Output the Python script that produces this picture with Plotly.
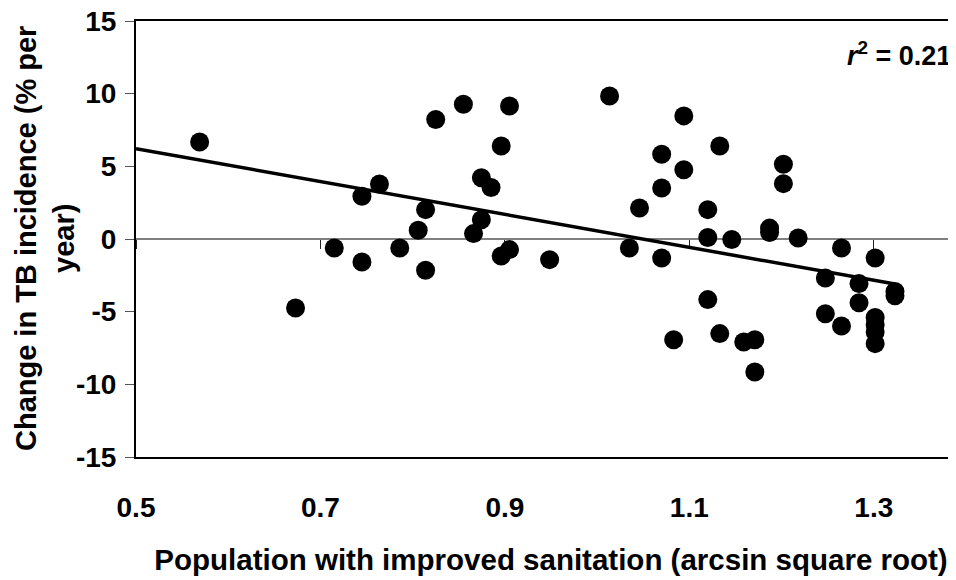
import plotly.graph_objects as go

# Data
sanitation = [0.569, 0.673, 0.715, 0.745, 0.745, 0.764, 0.786, 0.806, 0.814, 0.814,
              0.825, 0.855, 0.866, 0.8745, 0.8745, 0.885, 0.896, 0.896, 0.905, 0.905,
              0.9485, 1.0135, 1.035, 1.046, 1.070, 1.070, 1.070, 1.083, 1.094, 1.094,
              1.120, 1.120, 1.120, 1.133, 1.133, 1.146, 1.159, 1.171, 1.171, 1.187,
              1.187, 1.202, 1.202, 1.218, 1.2475, 1.2475, 1.265, 1.265, 1.284, 1.284,
              1.3015, 1.3015, 1.3015, 1.3015, 1.3015, 1.323, 1.323]
tb_change = [6.68, -4.75, -0.62, 2.94, -1.58, 3.79, -0.62, 0.60, 2.02, -2.15,
             8.22, 9.27, 0.37, 4.22, 1.33, 3.54, 6.40, -1.17, 9.15, -0.73,
             -1.42, 9.84, -0.62, 2.13, 5.83, 3.51, -1.31, -6.93, 8.47, 4.77,
             2.02, 0.10, -4.17, 6.40, -6.51, -0.04, -7.09, -6.93, -9.15, 0.75,
             0.45, 5.14, 3.81, 0.07, -2.68, -5.14, -0.62, -5.99, -3.07, -4.38,
             -1.31, -5.4, -5.9, -6.4, -7.2, -3.61, -3.91]

trend_x = [0.5, 1.323]
trend_y = [6.22, -3.10]

x_ticks = [0.5, 0.7, 0.9, 1.1, 1.3]
x_tick_labels = ["0.5", "0.7", "0.9", "1.1", "1.3"]
y_ticks = [-15, -10, -5, 0, 5, 10, 15]
y_tick_labels = ["-15", "-10", "-5", "0", "5", "10", "15"]

x_range = [0.5, 1.4]
y_range = [-15, 15]

FONT = "Liberation Sans, Arial, sans-serif"

fig = go.Figure()
fig.add_trace(go.Scatter(
    x=sanitation, y=tb_change, mode="markers",
    marker=dict(size=19, color="black", line=dict(width=0)),
    xaxis="x", yaxis="y", showlegend=False, hoverinfo="x+y"))
fig.add_trace(go.Scatter(
    x=trend_x, y=trend_y, mode="lines",
    line=dict(color="black", width=3.5),
    xaxis="x2", yaxis="y", showlegend=False, hoverinfo="skip"))

fig.update_layout(
    width=958, height=580,
    margin=dict(l=128, r=0, t=13, b=131, autoexpand=False),
    paper_bgcolor="white", plot_bgcolor="white",
    font=dict(family=FONT, color="black"),
    xaxis=dict(
        range=x_range, tickvals=x_ticks, ticktext=x_tick_labels,
        showgrid=False, zeroline=False, ticks="",
        showline=True, linecolor="black", linewidth=2, mirror=True,
        tickfont=dict(family=FONT, size=28, color="black", weight="bold"),
        ticklabelstandoff=24,
        title=dict(text="Population with improved sanitation (arcsin square root)",
                   font=dict(family=FONT, size=29.5, color="black", weight="bold"),
                   standoff=28),
        automargin=False,
    ),
    xaxis2=dict(
        range=x_range, overlaying="x", anchor="free", position=0.5, side="bottom",
        tickvals=x_ticks, showticklabels=False, showgrid=False, zeroline=False,
        ticks="outside", ticklen=9, tickwidth=1, tickcolor="#222",
        showline=True, linecolor="#808080", linewidth=2, layer="below traces",
    ),
    yaxis=dict(
        range=y_range, tickvals=y_ticks, ticktext=y_tick_labels,
        showgrid=False, zeroline=False,
        ticks="outside", ticklen=9, tickwidth=1, tickcolor="#555",
        showline=True, linecolor="black", linewidth=2, mirror=False,
        tickfont=dict(family=FONT, size=28, color="black", weight="bold"),
        ticklabelstandoff=3, ticklabeloverflow="allow",
        automargin=False,
    ),
    annotations=[
        dict(text="Change in TB incidence (% per<br>year)", textangle=-90,
             xref="paper", yref="paper", x=-0.1096, y=0.5,
             xanchor="center", yanchor="middle", showarrow=False,
             font=dict(family=FONT, size=29, color="black", weight="bold")),
        dict(text="<i>r</i><sup>2</sup> = 0.21",
             xref="paper", yref="paper", x=0.984, y=0.925,
             xanchor="right", yanchor="middle", showarrow=False,
             font=dict(family=FONT, size=27, color="black", weight="bold")),
    ],
)

fig.write_html("out.html")
